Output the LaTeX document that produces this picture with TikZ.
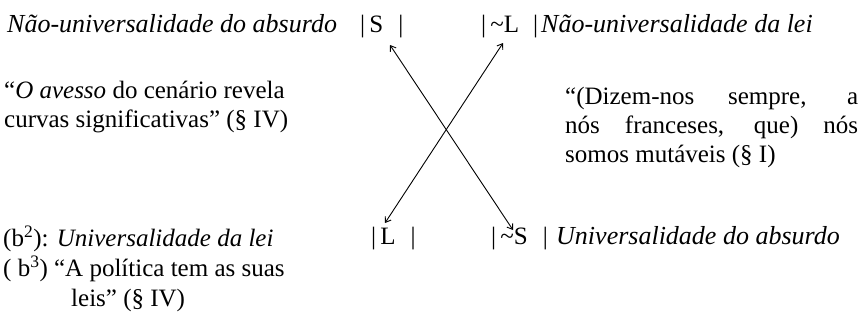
\documentclass[tikz,border=0pt]{standalone}
\usepackage{fontspec}
\setmainfont{Liberation Serif}
\usetikzlibrary{arrows.meta}
\begin{document}
\begin{tikzpicture}[x=1pt,y=-1pt,
  txt/.style={inner sep=0pt,font=\fontsize{25}{29}\selectfont},
  ital/.style={inner sep=0pt,font=\fontsize{26}{29}\selectfont\itshape},
  arr/.style={{Straight Barb[length=5pt,width=7pt]}-{Straight Barb[length=5pt,width=7pt]},line width=0.9pt}]
\useasboundingbox (0,0) rectangle (861,325);

% linha de cima
\node[ital,anchor=base west] (naoabs) at (7,32) {Não-universalidade do absurdo};
\node[txt,anchor=base west] (sS) at (360,32) {|\,S\hspace{15pt}|};
\node[txt,anchor=base west] (snL) at (481,32) {|\,\textasciitilde L\hspace{14pt}|};
\node[ital,anchor=base west] (naolei) at (541,32) {Não-universalidade da lei};

% citacoes
\node[txt,anchor=base west,align=left] (avesso) at (4,127)
  {“\textit{O avesso} do cenário revela\\curvas significativas” (§ IV)};
\node[txt,anchor=north west,text width=293pt,align=justify] (dizem) at (565,87)
  {“(Dizem-nos sempre, a\linebreak nós franceses, que) nós\linebreak somos mutáveis (§ I)};

% linha de baixo
\node[txt,anchor=base west] (sL) at (371,244) {|\,L\hspace{15pt}|};
\node[txt,anchor=base west] (snS) at (491,244) {|\,\textasciitilde S\hspace{15pt}|};
\node[ital,anchor=base west] (univabs) at (556,244) {Universalidade do absurdo};
\node[txt,anchor=north west,align=left,font=\fontsize{25}{30}\selectfont] (univlei) at (3,226)
  {(b\textsuperscript{2}): \textit{Universalidade da lei}\\
   ( b\textsuperscript{3}) “A política tem as suas\\
   \hspace*{68pt}leis” (§ IV)};

% setas cruzadas
\draw[arr] ([shift={(30,13)}]sS.base west) -- ([shift={(22,-14)}]snS.base west);
\draw[arr] ([shift={(22,11)}]snL.base west) -- ([shift={(14,-21)}]sL.base west);
\end{tikzpicture}
\end{document}
